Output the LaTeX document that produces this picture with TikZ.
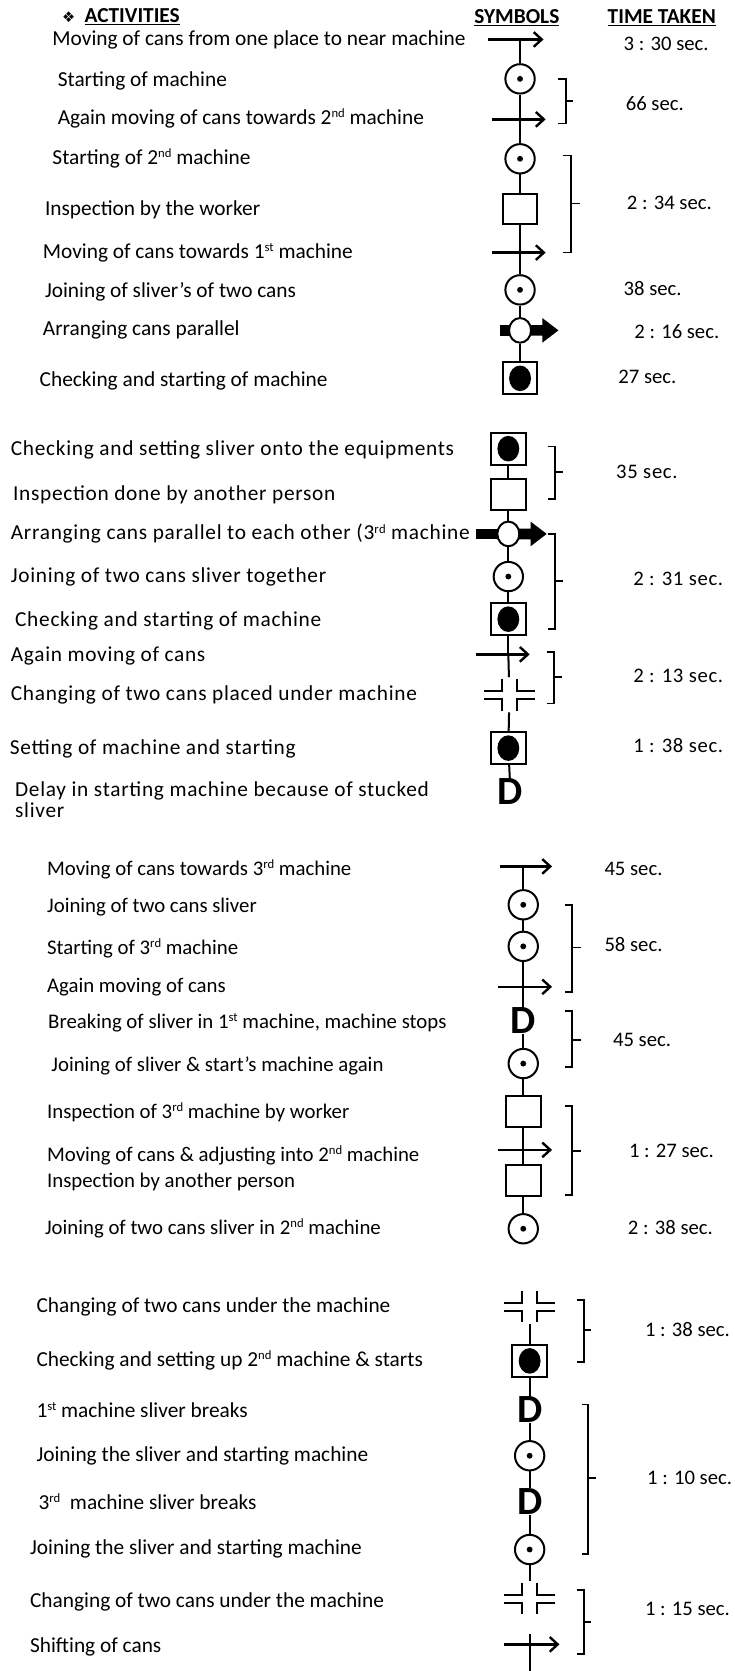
\documentclass[tikz,border=0pt]{standalone}
\usepackage{fontspec}
\setmainfont{Carlito}
\newfontfamily\symfont{DejaVu Sans}
\usetikzlibrary{arrows.meta,shapes.geometric,calc}
\newcommand{\sups}[1]{\raisebox{5.2pt}{\fontsize{9.5}{10}\selectfont #1}}
\tikzset{
  act/.style={anchor=west, inner sep=0pt, font=\fontsize{16}{19}\selectfont},
  actw/.style={act, font=\fontsize{16}{19}\selectfont\addfontfeature{LetterSpace=3.3}},
  actn/.style={act, font=\fontsize{15.6}{19}\selectfont},
  tm/.style={anchor=west, inner sep=0pt, font=\fontsize{15.5}{18}\selectfont},
  tmw/.style={tm, font=\fontsize{15.5}{18}\selectfont\addfontfeature{LetterSpace=3.3}},
  hd/.style={inner sep=0pt, font=\fontsize{16}{19}\selectfont\bfseries},
  spine/.style={line width=1.5pt},
  opc/.style={circle, draw, line width=1.5pt, minimum size=22pt, inner sep=0pt, fill=white,
    path picture={\fill[black] (path picture bounding box.center) circle (2.2pt);}},
  insp/.style={rectangle, draw, line width=1.5pt, minimum width=26pt, minimum height=23pt, inner sep=0pt, fill=white},
  comb/.style={insp, minimum height=24pt,
    path picture={\fill[black] (path picture bounding box.center) ellipse (8.2pt and 9.6pt);}},
  dly/.style={inner sep=0pt, font=\fontsize{30}{30}\selectfont\bfseries},
  arrc/.style={ellipse, draw, line width=1.5pt, fill=white, minimum width=16.5pt, minimum height=18.5pt, inner sep=0pt},
  chg/.style={inner sep=0pt, minimum width=42pt, minimum height=26pt,
    path picture={
      \draw[black, line width=1.5pt] (path picture bounding box.center) ++(-24,-3.8) -- ++(16.7,0) -- ++(0,-10.9);
      \draw[black, line width=1.5pt] (path picture bounding box.center) ++(24,-3.8) -- ++(-16.7,0) -- ++(0,-10.9);
      \draw[black, line width=1.5pt] (path picture bounding box.center) ++(-24,3.8) -- ++(16.7,0) -- ++(0,10.9);
      \draw[black, line width=1.5pt] (path picture bounding box.center) ++(24,3.8) -- ++(-16.7,0) -- ++(0,10.9);
    }},
  tarr/.style={line width=1.8pt, -{Straight Barb[length=6pt,width=11pt]}},
  brk/.style={line width=1.3pt},
}
\newcommand{\brkt}[6]{\draw[brk] (#1,#3) -- (#2,#3) -- (#2,#4) -- (#1,#4) (#2,#5) -- (#6,#5);}
\newcommand{\arrsym}[2]{%
  \fill ($(#1)+(-#2,-5)$) rectangle ($(#1)+(-8,5)$);
  \fill ($(#1)+(8,-5)$) -- ($(#1)+(21,-5)$) -- ($(#1)+(21,-11.5)$) -- ($(#1)+(36,0)$) -- ($(#1)+(21,11.5)$) -- ($(#1)+(21,5)$) -- ($(#1)+(8,5)$) -- cycle;}
\begin{document}
\begin{tikzpicture}[x=0.799pt,y=-0.799pt]
\useasboundingbox (0,0) rectangle (689,1568);
\fill[white] (0,0) rectangle (689,1568);

% header
\node[hd, anchor=west] (h1) at (58,16) {{\symfont\mdseries\fontsize{11}{12}\selectfont ❖}\hspace{7pt}\underline{ACTIVITIES}};
\node[hd] (h2) at (485,17) {\underline{SYMBOLS}};
\node[hd] (h3) at (621,17) {\underline{TIME TAKEN}};

% ---------- section 1 ----------
\coordinate (a1) at (488,37);
\node[opc] (a2) at (488,74) {};
\coordinate (a3) at (488,112);
\node[opc] (a4) at (488,149) {};
\node[insp] (a5) at (488,196) {};
\coordinate (a6) at (488,237);
\node[opc] (a7) at (488,272) {};
\coordinate (a8c) at (488,310);
\arrsym{a8c}{19}
\node[arrc] (a8) at (a8c) {};
\node[comb] (a9) at (488,355) {};
\foreach \p/\q in {a1/a2,a2/a3,a3/a4,a4/a5,a5/a6,a6/a7,a7/a8,a8/a9} \draw[spine] (\p) -- (\q);
\draw[tarr] (a1) ++(-30,0) -- ++(52,0);
\draw[tarr] (a3) ++(-26,0) -- ++(50,0);
\draw[tarr] (a6) ++(-26,0) -- ++(50,0);

\node[act] (t1) at (49,37) {Moving of cans from one place to near machine};
\node[act] (t2) at (54,76) {Starting of machine};
\node[act] (t3) at (54,111) {Again moving of cans towards 2\sups{nd} machine};
\node[act] (t4) at (49,149) {Starting of 2\sups{nd} machine};
\node[act] (t5) at (42,197) {Inspection by the worker};
\node[act] (t6) at (40,237) {Moving of cans towards 1\sups{st} machine};
\node[act] (t7) at (42,274) {Joining of sliver’s of two cans};
\node[act] (t8) at (40,310) {Arranging cans parallel};
\node[act] (t9) at (37,357) {Checking and starting of machine};

\node[tm] (m1) at (585,41) {3 : 30 sec.};
\brkt{524}{531}{74}{116}{95}{538}
\node[tm] (m2) at (587,97) {66 sec.};
\brkt{528}{536}{146}{237}{191}{544}
\node[tm] (m3) at (588,190) {2 : 34 sec.};
\node[tm] (m4) at (585,271) {38 sec.};
\node[tm] (m5) at (595,311) {2 : 16 sec.};
\node[tm] (m6) at (580,354) {27 sec.};

% ---------- section 2 ----------
\node[comb] (b1) at (477,421) {};
\node[insp] (b2) at (477,464) {};
\coordinate (b3c) at (477,501);
\arrsym{b3c}{30}
\node[arrc] (b3) at (b3c) {};
\node[opc] (b4) at (477,541) {};
\node[comb] (b5) at (477,581) {};
\coordinate (b6) at (477,614);
\node[chg] (b7) at (478,652) {};
\node[comb] (b8) at (477,702) {};
\node[dly] (b9) at (479,743) {D};
\foreach \p/\q in {b1/b2,b2/b3,b3/b4,b4/b5,b5/b6,b6/b7,b7/b8,b8/b9} \draw[spine] (\p) -- (\q);
\draw[tarr] (b6) ++(-30,0) -- ++(50,0);

\node[actw] (t10) at (10,422) {Checking and setting sliver onto the equipments};
\node[actw] (t11) at (12,464) {Inspection done by another person};
\node[actw] (t12) at (10,501) {Arranging cans parallel to each other (3\sups{rd} machine};
\node[actw] (t13) at (10,541) {Joining of two cans sliver together};
\node[actw] (t14) at (14,583) {Checking and starting of machine};
\node[actw] (t15) at (10,616) {Again moving of cans};
\node[actw] (t16) at (10,652) {Changing of two cans placed under machine};
\node[actw] (t17) at (9,703) {Setting of machine and starting};
\node[actw, align=left, anchor=north west] (t18) at (14,733) {Delay in starting machine because of stucked\\[-3pt]sliver};

\brkt{514}{521}{419}{468}{443}{528}
\node[tmw] (m7) at (578,443) {35 sec.};
\brkt{514}{521}{501}{590}{545}{528}
\node[tmw] (m8) at (594,543) {2 : 31 sec.};
\brkt{513}{520}{612}{660}{635}{527}
\node[tmw] (m9) at (594,634) {2 : 13 sec.};
\node[tmw] (m10) at (594,700) {1 : 38 sec.};

% ---------- section 3 ----------
\coordinate (c1) at (491,813);
\node[opc] (c2) at (491,849) {};
\node[opc] (c3) at (491,888) {};
\coordinate (c4) at (491,926);
\node[dly] (c5) at (491,958) {D};
\node[opc] (c6) at (491,998) {};
\node[insp] (c7) at (491,1043) {};
\coordinate (c8) at (491,1079);
\node[insp] (c9) at (491,1108) {};
\node[opc] (c10) at (491,1153) {};
\foreach \p/\q in {c1/c2,c2/c3,c3/c4,c4/c5,c5/c6,c6/c7,c7/c8,c8/c9,c9/c10} \draw[spine] (\p) -- (\q);
\draw[tarr] (c1) ++(-22,0) -- ++(49,0);
\draw[tarr] (c4) ++(-24,0) -- ++(51,0);
\draw[tarr] (c8) ++(-24,0) -- ++(51,0);

\node[actn] (t19) at (44,816) {Moving of cans towards 3\sups{rd} machine};
\node[actn] (t20) at (44,851) {Joining of two cans sliver};
\node[actn] (t21) at (44,890) {Starting of 3\sups{rd} machine};
\node[actn] (t22) at (44,926) {Again moving of cans};
\node[actn] (t23) at (45,960) {Breaking of sliver in 1\sups{st} machine, machine stops};
\node[actn] (t24) at (48,1000) {Joining of sliver \& start’s machine again};
\node[actn] (t25) at (44,1044) {Inspection of 3\sups{rd} machine by worker};
\node[actn] (t26) at (44,1084) {Moving of cans \& adjusting into 2\sups{nd} machine};
\node[actn] (t27) at (44,1109) {Inspection by another person};
\node[actn] (t28) at (42,1153) {Joining of two cans sliver in 2\sups{nd} machine};

\node[tm] (m11) at (567,815) {45 sec.};
\brkt{530}{537}{849}{931}{889}{545}
\node[tm] (m12) at (567,886) {58 sec.};
\brkt{530}{537}{949}{1001}{976}{545}
\node[tm] (m13) at (575,976) {45 sec.};
\brkt{530}{537}{1038}{1121}{1080}{545}
\node[tm] (m14) at (590,1080) {1 : 27 sec.};
\node[tm] (m15) at (589,1152) {2 : 38 sec.};

% ---------- section 4 ----------
\node[chg] (d1) at (497,1226) {};
\node[comb] (d2) at (497,1277) {};
\node[dly] (d3) at (497,1323) {D};
\node[opc] (d4) at (497,1366) {};
\node[dly] (d5) at (497,1409) {D};
\node[opc] (d6) at (497,1454) {};
\node[chg] (d7) at (497,1500) {};
\coordinate (d8) at (497,1543);
\coordinate (d8t) at (497,1533);
\coordinate (d9) at (497,1568);
\foreach \p/\q in {d1/d2,d2/d3,d3/d4,d4/d5,d5/d6,d6/d7,d8t/d9} \draw[spine] (\p) -- (\q);
\draw[tarr] (d8) ++(-24,0) -- ++(52,0);

\node[act] (t29) at (34,1226) {Changing of two cans under the machine};
\node[act] (t30) at (34,1277) {Checking and setting up 2\sups{nd} machine \& starts};
\node[act] (t31) at (34,1323) {1\sups{st} machine sliver breaks};
\node[act] (t32) at (34,1366) {Joining the sliver and starting machine};
\node[act] (t33) at (36,1409) {3\sups{rd}\ \ machine sliver breaks};
\node[act] (t34) at (28,1453) {Joining the sliver and starting machine};
\node[act] (t35) at (28,1503) {Changing of two cans under the machine};
\node[act] (t36) at (28,1545) {Shifting of cans};

\brkt{541}{548}{1220}{1278}{1248}{555}
\node[tm] (m16) at (605,1248) {1 : 38 sec.};
\brkt{546}{552}{1318}{1458}{1387}{559}
\node[tm] (m17) at (607,1387) {1 : 10 sec.};
\brkt{541}{548}{1492}{1552}{1522}{555}
\node[tm] (m18) at (605,1510) {1 : 15 sec.};
\end{tikzpicture}
\end{document}
